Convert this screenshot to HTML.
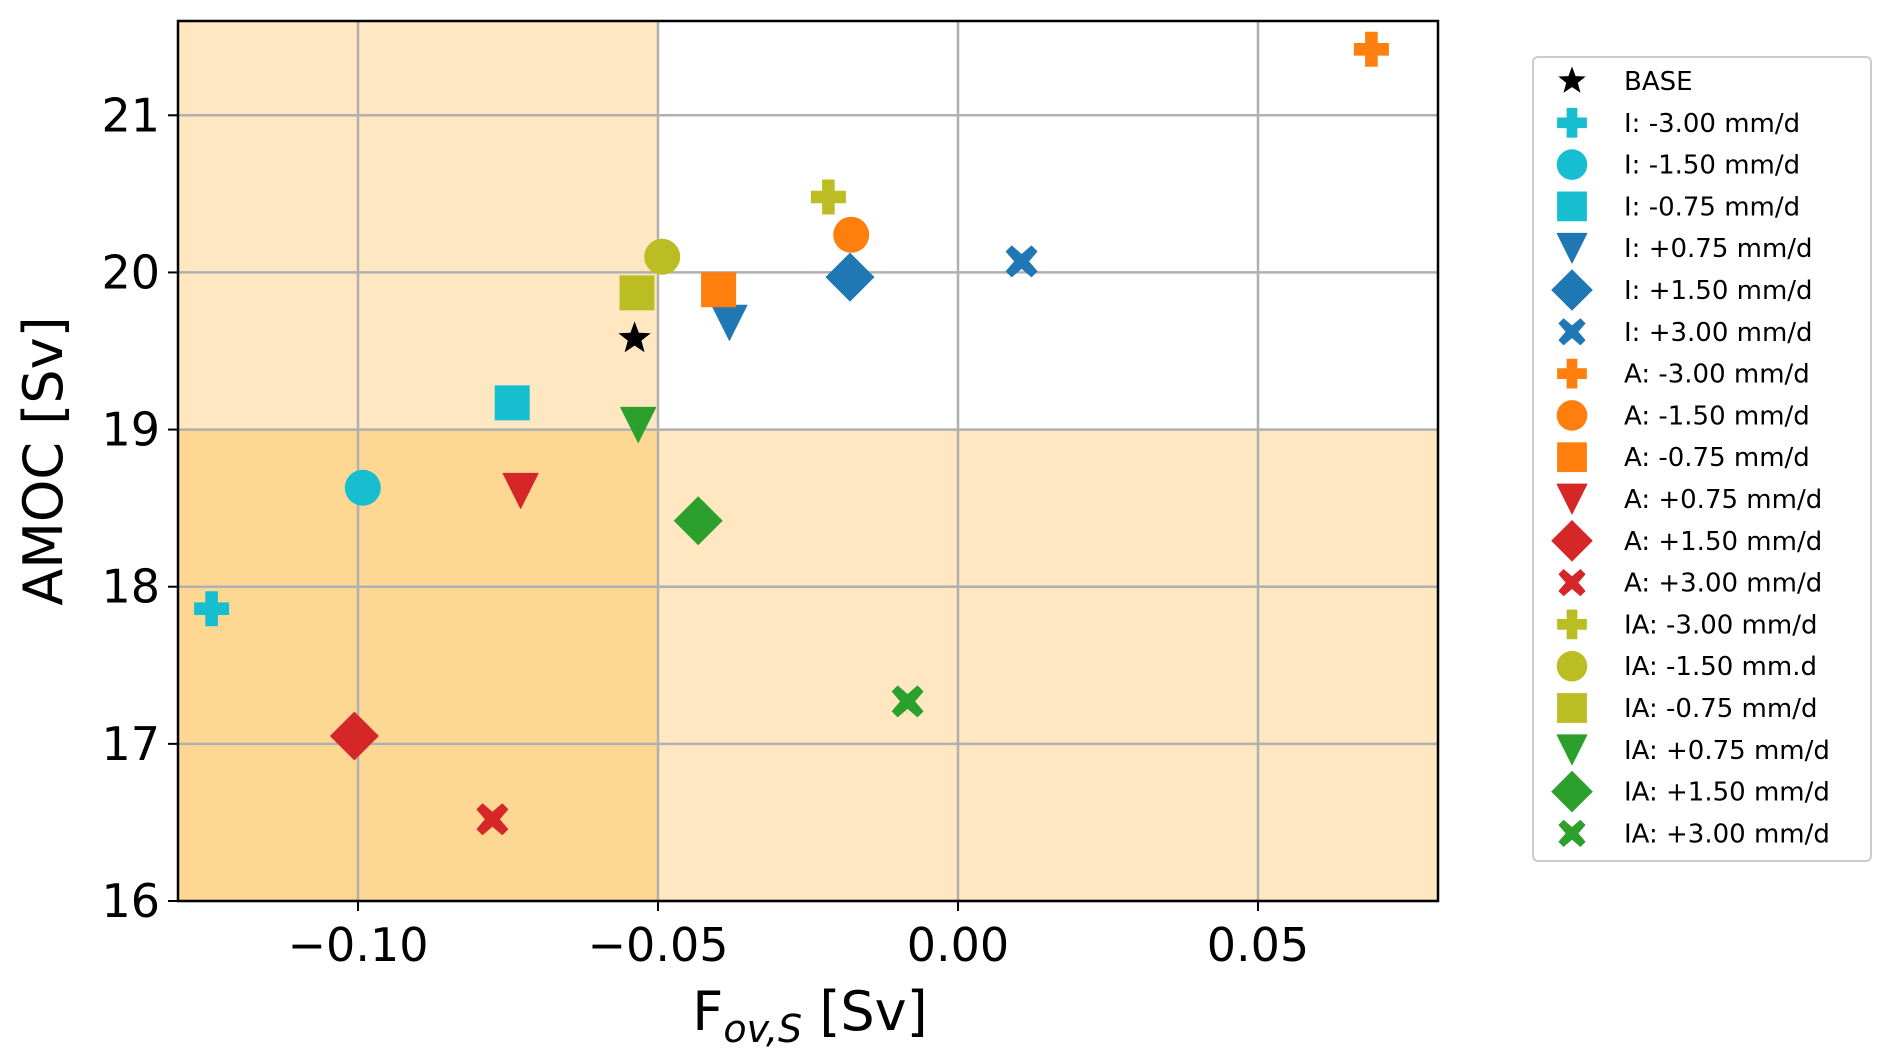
<!DOCTYPE html>
<html><head><meta charset="utf-8"><style>
html,body{margin:0;padding:0;background:#fff;}
svg{display:block;font-family:"DejaVu Sans","Liberation Sans",sans-serif;}
</style></head><body>
<svg id="chart" width="1892" height="1061" viewBox="0 0 1892 1061" xmlns="http://www.w3.org/2000/svg">
<g id="bg"></g><g id="grid"></g><g id="marks"></g><g id="axes"></g><g id="legend"></g>
</svg>
<script>
const labels = ["BASE","I: -3.00 mm/d","I: -1.50 mm/d","I: -0.75 mm/d","I: +0.75 mm/d","I: +1.50 mm/d","I: +3.00 mm/d","A: -3.00 mm/d","A: -1.50 mm/d","A: -0.75 mm/d","A: +0.75 mm/d","A: +1.50 mm/d","A: +3.00 mm/d","IA: -3.00 mm/d","IA: -1.50 mm.d","IA: -0.75 mm/d","IA: +0.75 mm/d","IA: +1.50 mm/d","IA: +3.00 mm/d"];
const fovValues = [-0.0539,-0.1244,-0.0992,-0.0743,-0.0381,-0.0180,0.0106,0.0689,-0.0178,-0.0399,-0.0729,-0.1006,-0.0776,-0.0216,-0.0493,-0.0535,-0.0533,-0.0433,-0.0084];
const amocValues = [19.58,17.86,18.63,19.17,19.68,19.97,20.07,21.42,20.24,19.89,18.61,17.05,16.52,20.48,20.10,19.87,19.03,18.42,17.27];
const markers = ["star","plus","circle","square","tri","diamond","x","plus","circle","square","tri","diamond","x","plus","circle","square","tri","diamond","x"];
const colors = ["#000000","#17becf","#17becf","#17becf","#1f77b4","#1f77b4","#1f77b4","#ff7f0e","#ff7f0e","#ff7f0e","#d62728","#d62728","#d62728","#bcbd22","#bcbd22","#bcbd22","#2ca02c","#2ca02c","#2ca02c"];
const xTicks = [-0.10,-0.05,0.00,0.05];
const xTickLabels = ["\u22120.10","\u22120.05","0.00","0.05"];
const yTicks = [16,17,18,19,20,21];
const yTickLabels = ["16","17","18","19","20","21"];
const xDomain = [-0.13,0.08];
const yDomain = [16,21.6];
const thresholdX = -0.05, thresholdY = 19;

const NS="http://www.w3.org/2000/svg";
const L=178,R=1438,T=21,B=901;
const sx=v=>L+(v-xDomain[0])/(xDomain[1]-xDomain[0])*(R-L);
const sy=v=>B-(v-yDomain[0])/(yDomain[1]-yDomain[0])*(B-T);
function el(tag,attrs,parent){const e=document.createElementNS(NS,tag);for(const k in attrs)e.setAttribute(k,attrs[k]);parent.appendChild(e);return e;}
const bg=document.getElementById('bg'),grid=document.getElementById('grid'),marks=document.getElementById('marks'),axes=document.getElementById('axes'),leg=document.getElementById('legend');

let r=el('rect',{x:L,y:T,width:sx(thresholdX)-L,height:B-T,fill:'#fee7c1'},bg);


r=el('rect',{x:sx(thresholdX),y:sy(thresholdY),width:R-sx(thresholdX),height:B-sy(thresholdY),fill:'#fee7c1'},bg);


r=el('rect',{x:L,y:sy(thresholdY),width:sx(thresholdX)-L,height:B-sy(thresholdY),fill:'#fed892'},bg);



xTicks.forEach((t,i)=>{
  const x=sx(t);
  let g=el('line',{x1:x,x2:x,y1:T,y2:B,stroke:'#b0b0b0','stroke-width':2.5},grid);
  
  
  let tk=el('line',{x1:x,x2:x,y1:B,y2:B+10,stroke:'#000','stroke-width':2},axes);
  
  
  let tx=el('text',{x:x,y:B+60,'font-size':46,'text-anchor':'middle',fill:'#000'},axes);
  tx.textContent=xTickLabels[i];
  
  
});
yTicks.forEach((t,i)=>{
  const y=sy(t);
  let g=el('line',{x1:L,x2:R,y1:y,y2:y,stroke:'#b0b0b0','stroke-width':2.5},grid);
  
  
  let tk=el('line',{x1:L-10,x2:L,y1:y,y2:y,stroke:'#000','stroke-width':2},axes);
  
  
  let tx=el('text',{x:L-18,y:y+16,'font-size':46,'text-anchor':'end',fill:'#000'},axes);
  tx.textContent=yTickLabels[i];
  
  
});
let frame=el('rect',{x:L,y:T,width:R-L,height:B-T,fill:'none',stroke:'#000','stroke-width':2.5},axes);



function drawMarker(parent,type,cx,cy,color,s){
  let e;
  const h=s/2;
  if(type==='circle') e=el('ellipse',{cx:cx,cy:cy,rx:h,ry:h,fill:color},parent);
  else if(type==='square') e=el('rect',{x:cx-h,y:cy-h,width:s,height:s,fill:color},parent);
  else if(type==='tri') e=el('polygon',{points:`${cx-h},${cy-h} ${cx+h},${cy-h} ${cx},${cy+h}`,fill:color,'stroke-linejoin':'round',stroke:color,'stroke-width':1},parent);
  else if(type==='diamond'){const d=s*0.68;e=el('polygon',{points:`${cx},${cy-d} ${cx+d},${cy} ${cx},${cy+d} ${cx-d},${cy}`,fill:color},parent);}
  else if(type==='plus'){const a=h*0.36;e=el('path',{d:`M${cx-a},${cy-h}H${cx+a}V${cy-a}H${cx+h}V${cy+a}H${cx+a}V${cy+h}H${cx-a}V${cy+a}H${cx-h}V${cy-a}H${cx-a}Z`,fill:color},parent);}
  else if(type==='x'){const a=h*0.38;
    e=el('path',{d:`M${cx-a},${cy-a}`,fill:color},parent);
    const pts=[[-h,-h+a],[-h+a,-h],[0,-h+a*1.4],[h-a,-h],[h,-h+a],[h-a*1.4,0],[h,h-a],[h-a,h],[0,h-a*1.4],[-h+a,h],[-h,h-a],[-h+a*1.4,0]];
    e.setAttribute('d','M'+pts.map(q=>(cx+q[0])+','+(cy+q[1])).join('L')+'Z');}
  else if(type==='star'){const pts=[];for(let k=0;k<10;k++){const rr=k%2?h*0.42:h;const ang=-Math.PI/2+k*Math.PI/5;pts.push((cx+rr*Math.cos(ang)).toFixed(1)+','+(cy+rr*Math.sin(ang)).toFixed(1));}
    e=el('polygon',{points:pts.join(' '),fill:color},parent);}
  return e;
}
const sizes={circle:36,square:35,tri:35,diamond:36,plus:35,x:32,star:34};
fovValues.forEach((v,i)=>{
  const m=drawMarker(marks,markers[i],sx(v),sy(amocValues[i]),colors[i],sizes[markers[i]]);
  
  
});

const lb=el('rect',{x:1533,y:57,width:338,height:804,rx:5,fill:'#fff',stroke:'#cccccc','stroke-width':2},leg);


labels.forEach((lab,i)=>{
  const y=81+i*41.8;
  const g=el('g',{},leg);
  
  
  drawMarker(g,markers[i],1572,y,colors[i],sizes[markers[i]]*0.85);
  const t=el('text',{x:1624,y:y+9,'font-size':26,fill:'#000'},g);
  t.textContent=lab;
});

let yl=el('text',{x:0,y:0,'font-size':54,'text-anchor':'middle',transform:'translate(62,461) rotate(-90)'},axes);
yl.textContent='AMOC [Sv]';


let xl=el('text',{x:810,y:1030,'font-size':54,'text-anchor':'middle'},axes);
xl.innerHTML='F<tspan font-size="38" dy="12" font-style="italic">ov,S</tspan><tspan dy="-12"> [Sv]</tspan>';


</script>
</body></html>
